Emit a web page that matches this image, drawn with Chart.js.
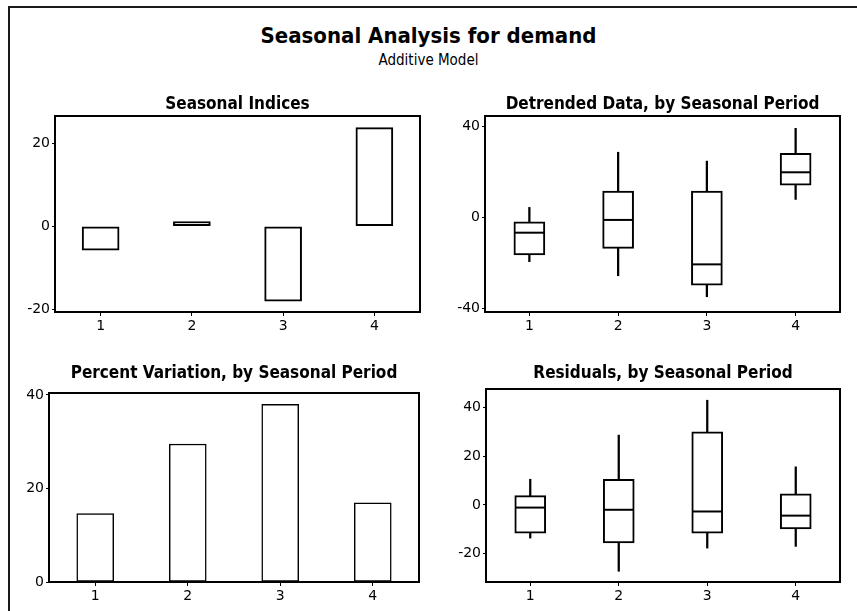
<!DOCTYPE html>
<html>
<head>
<meta charset="utf-8">
<script src="https://cdn.jsdelivr.net/npm/chart.js@4.4.1/dist/chart.umd.min.js"></script>
<style>
  body { margin:0; background:#fff; width:857px; height:611px; overflow:hidden; position:relative; font-family:"DejaVu Sans", sans-serif; }
  #frame { position:absolute; left:8px; top:6px; width:900px; height:700px; border:2px solid #1a1a1a; box-sizing:border-box; }
  .ttl { position:absolute; left:0; width:857px; text-align:center; color:#000; white-space:nowrap; }
  canvas { position:absolute; }
</style>
</head>
<body>
<div id="frame"></div>
<div class="ttl" style="top:25px; font:bold 22px/21px 'DejaVu Sans Condensed', 'DejaVu Sans';">Seasonal Analysis for demand</div>
<div class="ttl" style="top:53px; font:15px/15px 'DejaVu Sans Condensed', 'DejaVu Sans';">Additive Model</div>
<canvas id="c1" width="430" height="250" style="left:0;top:90px"></canvas>
<canvas id="c2" width="427" height="250" style="left:430px;top:90px"></canvas>
<canvas id="c3" width="430" height="261" style="left:0;top:350px"></canvas>
<canvas id="c4" width="427" height="261" style="left:430px;top:350px"></canvas>
<script>
// data
const periods = ['1', '2', '3', '4'];

const seasonalIndices = [-5.8, 1.1, -18.1, 23.8];
const indexTicks = [-20, 0, 20];

const detrendedLow    = [-19.4, -25.6, -34.8, 7.9];
const detrendedQ1     = [-16.5, -13.6, -29.7, 14.2];
const detrendedMedian = [-6.7, -1.1, -20.6, 19.8];
const detrendedQ3     = [-1.9, 11.6, 11.6, 28.1];
const detrendedHigh   = [4.4, 28.6, 24.7, 39.1];
const detrendedTicks  = [-40, 0, 40];

const percentVariation = [14.6, 29.5, 38.0, 16.9];
const percentTicks = [0, 20, 40];

const residualLow    = [-13.6, -27.2, -17.7, -17.0];
const residualQ1     = [-11.6, -15.6, -11.6, -9.8];
const residualMedian = [-1.1, -2.0, -2.7, -4.4];
const residualQ3     = [3.8, 10.5, 29.9, 4.5];
const residualHigh   = [10.5, 28.6, 42.9, 15.6];
const residualTicks  = [-20, 0, 20, 40];

Chart.defaults.font.family = "'DejaVu Sans', sans-serif";
Chart.defaults.color = '#000';

// black box round the plot area
const plotFrame = {
  id: 'plotFrame',
  afterDraw(chart) {
    const a = chart.chartArea, ctx = chart.ctx;
    ctx.save();
    ctx.strokeStyle = '#000';
    ctx.lineWidth = 2;
    ctx.strokeRect(a.left, a.top, a.right - a.left, a.bottom - a.top);
    ctx.restore();
  }
};

const YW = 44; // y axis width

function panel(id, title, datasets, y, pad) {
  return new Chart(document.getElementById(id), {
    type: 'bar',
    data: { labels: periods, datasets: datasets },
    options: {
      responsive: false,
      animation: false,
      events: [],
      layout: { padding: { left: pad.left - YW, right: pad.right, top: 0, bottom: 0 } },
      plugins: {
        legend: { display: false },
        tooltip: { enabled: false },
        title: {
          display: true,
          fullSize: false,
          text: title,
          color: '#000',
          font: { family: "'DejaVu Sans Condensed', 'DejaVu Sans'", size: 17, weight: 'bold', lineHeight: '18px' },
          padding: { top: pad.tt, bottom: pad.tb }
        }
      },
      scales: {
        x: {
          offset: true,
          afterFit: s => { s.height = pad.xh; },
          grid: { offset: false, drawOnChartArea: false, tickLength: 4, tickColor: '#000', lineWidth: 1 },
          border: { display: false },
          ticks: { color: '#000', font: { size: 14 }, padding: 2, maxRotation: 0 }
        },
        y: {
          min: y.min,
          max: y.max,
          afterBuildTicks: s => { s.ticks = y.ticks.map(v => ({ value: v })); },
          afterFit: s => { s.width = YW; },
          grid: { drawOnChartArea: false, tickLength: 3, tickColor: '#000', lineWidth: 1 },
          border: { display: false },
          ticks: { color: '#000', font: { size: 14 }, padding: 2 }
        }
      }
    },
    plugins: [plotFrame]
  });
}

function boxSets(low, q1, med, q3, high) {
  return [
    { data: low.map((v, i) => [v, high[i]]), backgroundColor: '#000', borderWidth: 0,
      barThickness: 1.6, grouped: false, order: 3 },
    { data: q1.map((v, i) => [v, q3[i]]), backgroundColor: '#fff', borderColor: '#000',
      borderWidth: 2, borderSkipped: false, barThickness: 31, grouped: false, order: 2 },
    { type: 'line', data: med, showLine: false, pointStyle: 'line', pointRadius: 15,
      pointBorderWidth: 2, pointBorderColor: '#000', order: 1 }
  ];
}

panel('c1', 'Seasonal Indices', [
  { data: seasonalIndices.map(v => [0, v]), backgroundColor: '#fff', borderColor: '#000',
    borderWidth: 2, borderSkipped: false, barThickness: 37 }
], { min: -20.7, max: 26.6, ticks: indexTicks },
   { left: 55, right: 10, tt: 5.5, tb: 2.5, xh: 28 });

panel('c2', 'Detrended Data, by Seasonal Period',
  boxSets(detrendedLow, detrendedQ1, detrendedMedian, detrendedQ3, detrendedHigh),
  { min: -41.5, max: 44.5, ticks: detrendedTicks },
  { left: 55, right: 8, tt: 5.5, tb: 2.5, xh: 28 });

panel('c3', 'Percent Variation, by Seasonal Period', [
  { data: percentVariation, backgroundColor: '#fff', borderColor: '#000',
    borderWidth: 1.5, borderSkipped: false, barThickness: 37 }
], { min: 0, max: 40.4, ticks: percentTicks },
   { left: 49, right: 11, tt: 14.5, tb: 10.5, xh: 29 });

panel('c4', 'Residuals, by Seasonal Period',
  boxSets(residualLow, residualQ1, residualMedian, residualQ3, residualHigh),
  { min: -31.6, max: 47.5, ticks: residualTicks },
  { left: 56, right: 8, tt: 14.5, tb: 6.5, xh: 29 });
</script>
</body>
</html>
